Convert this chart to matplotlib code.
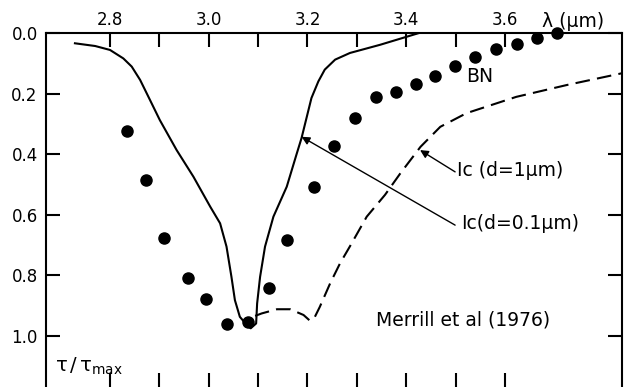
import matplotlib
matplotlib.use("Agg")
import matplotlib.pyplot as plt

plt.rcParams['font.family'] = 'DejaVu Sans'
plt.rcParams['mathtext.default'] = 'regular'

# Ic (d=0.1um), solid line
thin_x = [2.729, 2.770, 2.800, 2.827, 2.844, 2.861, 2.880, 2.901, 2.935, 2.969, 3.003,
          3.023, 3.036, 3.046, 3.053, 3.063, 3.077, 3.085, 3.096, 3.098, 3.104, 3.114,
          3.131, 3.158, 3.178, 3.188, 3.198, 3.208, 3.222, 3.235, 3.256, 3.286, 3.347, 3.426]
thin_y = [0.034, 0.043, 0.056, 0.084, 0.111, 0.155, 0.218, 0.288, 0.387, 0.475, 0.574,
          0.629, 0.706, 0.806, 0.883, 0.938, 0.965, 0.976, 0.960, 0.894, 0.806, 0.706,
          0.607, 0.508, 0.400, 0.347, 0.281, 0.215, 0.160, 0.121, 0.088, 0.066, 0.039, 0.000]

# Ic (d=1um), dashed line
thick_x = [3.094, 3.107, 3.138, 3.165, 3.192, 3.205, 3.215, 3.225, 3.246, 3.266, 3.286,
           3.320, 3.357, 3.388, 3.429, 3.469, 3.522, 3.623, 3.725, 3.837]
thick_y = [0.935, 0.927, 0.913, 0.913, 0.932, 0.951, 0.938, 0.905, 0.827, 0.761, 0.705,
           0.607, 0.535, 0.464, 0.376, 0.310, 0.265, 0.211, 0.172, 0.133]

# BN dots
bn_x = [2.834, 2.873, 2.909, 2.957, 2.995, 3.036, 3.079, 3.122, 3.158, 3.213, 3.253,
        3.296, 3.338, 3.379, 3.419, 3.459, 3.498, 3.539, 3.581, 3.625, 3.664, 3.706]
bn_y = [0.324, 0.486, 0.679, 0.811, 0.879, 0.963, 0.954, 0.844, 0.684, 0.508, 0.372,
        0.280, 0.210, 0.194, 0.169, 0.142, 0.109, 0.078, 0.054, 0.037, 0.018, 0.001]

x_ticks = [2.8, 2.9, 3.0, 3.1, 3.2, 3.3, 3.4, 3.5, 3.6]
x_labels = ['2.8', '', '3.0', '', '3.2', '', '3.4', '', '3.6']
y_ticks = [0.0, 0.2, 0.4, 0.6, 0.8, 1.0]
y_labels = ['0.0', '0.2', '0.4', '0.6', '0.8', '1.0']

fig = plt.figure(figsize=(6.24, 3.87), dpi=100)
ax = fig.add_axes([46/624, 0.0, 576/624, 354/387])

ax.plot(thin_x, thin_y, color='k', lw=1.5)
ax.plot(thick_x, thick_y, color='k', lw=1.5, linestyle=(0, (7, 3.5)))
ax.plot(bn_x, bn_y, 'o', color='k', markersize=8, clip_on=False)

ax.set_xlim(2.6704, 3.837)
ax.set_ylim(1.170, 0.0)

ax.set_xticks(x_ticks)
ax.set_xticklabels(x_labels)
ax.set_yticks(y_ticks)
ax.set_yticklabels(y_labels)
ax.tick_params(direction='in', length=10, width=1.5, labelsize=12,
               top=True, labeltop=True, bottom=True, labelbottom=False,
               left=True, right=True)
ax.tick_params(axis='x', pad=3)
ax.tick_params(axis='y', pad=6)

for s in ['top', 'left', 'right']:
    ax.spines[s].set_linewidth(1.5)
ax.spines['bottom'].set_visible(False)

# labels and arrows
ax.annotate('', xy=(3.188, 0.343), xytext=(3.499, 0.635),
            arrowprops=dict(arrowstyle='-|>', color='k', lw=1, mutation_scale=12, shrinkA=0, shrinkB=0))
ax.annotate('', xy=(3.428, 0.387), xytext=(3.499, 0.459),
            arrowprops=dict(arrowstyle='-|>', color='k', lw=1, mutation_scale=12, shrinkA=0, shrinkB=0))
ax.text(3.512, 0.628, 'Ic(d=0.1μm)', fontsize=13.5, ha='left', va='center')
ax.text(3.502, 0.453, 'Ic (d=1μm)', fontsize=13.5, ha='left', va='center')
ax.text(3.549, 0.144, 'BN', fontsize=13.5, ha='center', va='center')
ax.text(3.338, 0.948, 'Merrill et al (1976)', fontsize=13.5, ha='left', va='center')
ax.text(3.674, -0.037, 'λ (μm)', fontsize=13.5, ha='left', va='center', clip_on=False)
ax.text(2.689, 1.103, r'$\tau\,/\,\tau_{max}$', fontsize=14, ha='left', va='center')

fig.savefig('out.png', dpi=100)
